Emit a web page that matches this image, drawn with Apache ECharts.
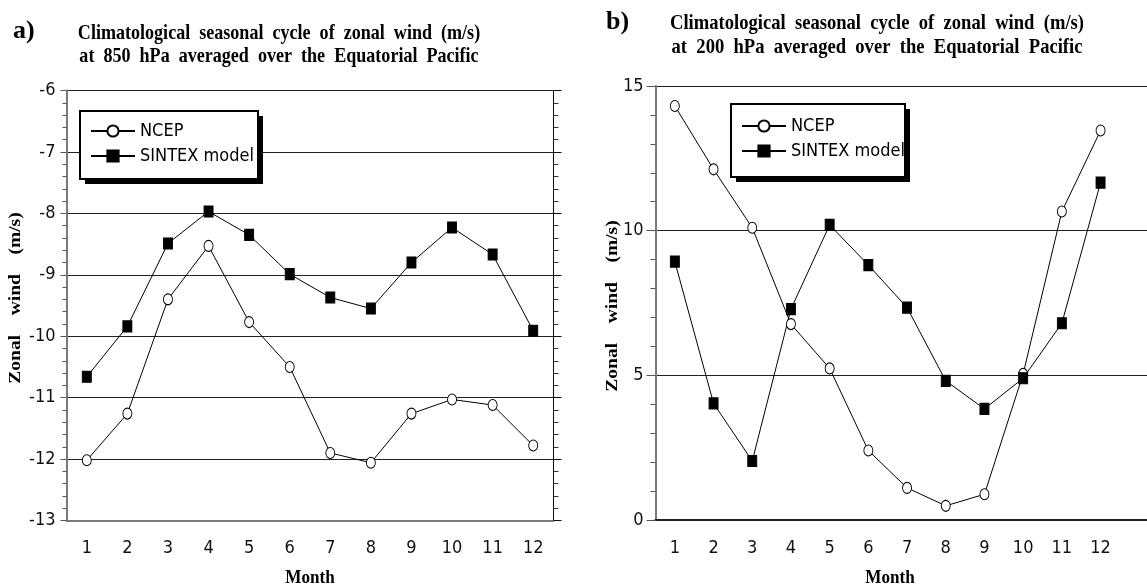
<!DOCTYPE html>
<html>
<head>
<meta charset="utf-8">
<script src="https://cdn.jsdelivr.net/npm/echarts@6/dist/echarts.min.js"></script>
<style>
html,body{margin:0;padding:0;background:#fff;}
#c{width:1147px;height:587px;}
</style>
</head>
<body>
<div id="c"></div>
<script>
// ---- data ----
const months = [1,2,3,4,5,6,7,8,9,10,11,12];
const ncep850   = [-12.02,-11.26,-9.40,-8.53,-9.77,-10.50,-11.90,-12.06,-11.26,-11.03,-11.12,-11.78];
const sintex850 = [-10.66,-9.84,-8.49,-7.97,-8.35,-8.99,-9.37,-9.55,-8.80,-8.23,-8.67,-9.91];
const ncep200   = [14.31,12.12,10.10,6.77,5.24,2.40,1.11,0.49,0.89,5.05,10.66,13.46];
const sintex200 = [8.93,4.03,2.04,7.29,10.20,8.81,7.34,4.81,3.84,4.90,6.80,11.66];
const seriesNames = ['NCEP','SINTEX model'];
const titleA = ['Climatological  seasonal  cycle  of  zonal  wind  (m/s)','at  850  hPa  averaged  over  the  Equatorial  Pacific'];
const titleB = ['Climatological  seasonal  cycle  of  zonal  wind  (m/s)','at  200  hPa  averaged  over  the  Equatorial  Pacific'];
const yName = 'Zonal    wind    (m/s)';
const xName = 'Month';

const NARROW = "'DejaVu Sans Condensed','Liberation Sans Narrow',sans-serif";
const SERIF = "'Liberation Serif','Times New Roman',serif";

const pair = arr => months.map((m,i)=>[m, arr[i]]);

const chart = echarts.init(document.getElementById('c'), null, {renderer:'canvas'});

function xAxisCfg(grid, max, lineColor){
  return {
    type:'value', gridIndex:grid, min:0.5, max:max,
    axisLine:{show:true, onZero:false, lineStyle:{color:lineColor, width:2}},
    axisTick:{show:false},
    splitLine:{show:false},
    axisLabel:{customValues:months, margin:19, fontFamily:NARROW, fontSize:18, color:'#111'}
  };
}
function yAxisLeft(grid, min, max, interval, tickLen, minorLen, margin){
  return {
    type:'value', gridIndex:grid, min:min, max:max, interval:interval, position:'left',
    axisLine:{show:true, onZero:false, lineStyle:{color:'#7a7a7a', width:2}},
    axisTick:{show:true, length:tickLen, lineStyle:{color:'#555'}},
    minorTick:{show:true, splitNumber:5, length:minorLen, lineStyle:{color:'#555'}},
    splitLine:{show:true, lineStyle:{color:'#222', width:1}},
    axisLabel:{margin:margin, fontFamily:NARROW, fontSize:18, color:'#111'}
  };
}
function lineSeries(name, x, y, data){
  const isN = name === 'NCEP';
  return {
    name:name, type:'line', xAxisIndex:x, yAxisIndex:y, data:data,
    symbol: isN ? 'circle' : 'rect',
    symbolSize:[9,11],
    showAllSymbol:true,
    lineStyle:{color:'#000', width:1},
    itemStyle:{color: isN ? '#fff' : '#000', borderColor:'#000', borderWidth:1},
    emphasis:{disabled:true},
    animation:false, z:3
  };
}
function legendCfg(left, top){
  return {
    data:seriesNames, orient:'vertical', left:left, top:top, padding:0,
    itemWidth:44, itemHeight:14, itemGap:7,
    textStyle:{fontFamily:NARROW, fontSize:18, color:'#000'},
    selectedMode:false, z:6
  };
}
function titleTexts(lines, cx, y1, y2, sx){
  return lines.map((t,i)=>({
    type:'text', x:cx, y: i===0 ? y1 : y2, scaleX:sx, silent:true,
    style:{text:t, font:'bold 21px '+SERIF, fill:'#000', textAlign:'center', textVerticalAlign:'middle'}
  }));
}
function legendBox(x,y,w,h){
  return [
    {type:'rect', z:4, silent:true, shape:{x:x+5, y:y+5, width:w, height:h}, style:{fill:'#000'}},
    {type:'rect', z:5, silent:true, shape:{x:x, y:y, width:w, height:h}, style:{fill:'#fff', stroke:'#000', lineWidth:2}}
  ];
}

const option = {
  backgroundColor:'#fff',
  animation:false,
  grid:[
    {left:66.5, top:90.5, width:487, height:430},
    {left:655.5, top:86, width:496.5, height:434}
  ],
  xAxis:[ xAxisCfg(0, 12.5, '#7a7a7a'), xAxisCfg(1, 13.2, '#222') ],
  yAxis:[
    yAxisLeft(0, -13, -6, 1, 6, 4, 11),
    {
      type:'value', gridIndex:0, min:-13, max:-6, interval:1, position:'right',
      axisLine:{show:true, onZero:false, lineStyle:{color:'#111', width:1}},
      axisTick:{show:true, length:8, lineStyle:{color:'#111'}},
      minorTick:{show:true, splitNumber:5, length:5, lineStyle:{color:'#333'}},
      splitLine:{show:false}, axisLabel:{show:false}
    },
    yAxisLeft(1, 0, 15, 5, 9, 5, 12)
  ],
  legend:[ legendCfg(90, 122), legendCfg(741, 117) ],
  series:[
    lineSeries('NCEP', 0, 0, pair(ncep850)),
    lineSeries('SINTEX model', 0, 0, pair(sintex850)),
    lineSeries('NCEP', 1, 2, pair(ncep200)),
    lineSeries('SINTEX model', 1, 2, pair(sintex200))
  ],
  graphic:[
    {type:'text', x:13, y:31, silent:true, style:{text:'a)', font:'bold 26px '+SERIF, fill:'#000', textAlign:'left', textVerticalAlign:'middle'}},
    {type:'text', x:606, y:22, silent:true, style:{text:'b)', font:'bold 26px '+SERIF, fill:'#000', textAlign:'left', textVerticalAlign:'middle'}},
    ...titleTexts(titleA, 279, 34, 57, 0.86),
    ...titleTexts(titleB, 877, 24, 48, 0.885),
    {type:'text', x:16, y:298, rotation:Math.PI/2, scaleX:1.22, silent:true,
      style:{text:yName, font:'bold 16px '+SERIF, fill:'#000', textAlign:'center', textVerticalAlign:'middle'}},
    {type:'text', x:613, y:306, rotation:Math.PI/2, scaleX:1.22, silent:true,
      style:{text:yName, font:'bold 16px '+SERIF, fill:'#000', textAlign:'center', textVerticalAlign:'middle'}},
    {type:'text', x:310, y:578, scaleX:0.9, silent:true,
      style:{text:xName, font:'bold 19px '+SERIF, fill:'#000', textAlign:'center', textVerticalAlign:'middle'}},
    {type:'text', x:890, y:578, scaleX:0.9, silent:true,
      style:{text:xName, font:'bold 19px '+SERIF, fill:'#000', textAlign:'center', textVerticalAlign:'middle'}},
    ...legendBox(80, 111, 178, 68),
    ...legendBox(731, 104, 174, 73)
  ]
};
chart.setOption(option);
</script>
</body>
</html>
